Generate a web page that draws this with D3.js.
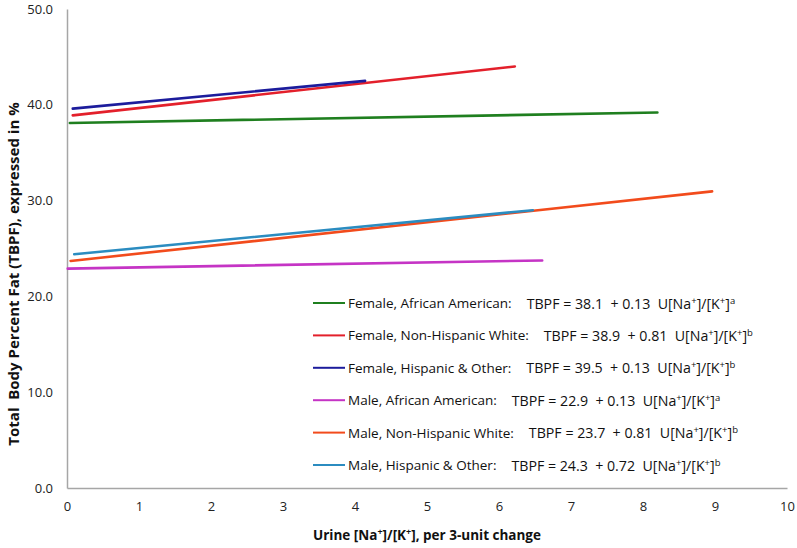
<!DOCTYPE html>
<html>
<head>
<meta charset="utf-8">
<script src="https://cdn.jsdelivr.net/npm/d3@7"></script>
<style>
  html, body { margin: 0; padding: 0; background: #fff; }
  svg { display: block; }
  text { font-family: "Open Sans", "Noto Sans", sans-serif; }
  .eq { white-space: pre; }
</style>
</head>
<body>
<div id="chart"></div>
<script>
// ---- data ----
const seriesNames = [
  "Female, African American:",
  "Female, Non-Hispanic White:",
  "Female, Hispanic & Other:",
  "Male, African American:",
  "Male, Non-Hispanic White:",
  "Male, Hispanic & Other:"
];
const seriesColors = ["#1f7f1f", "#e3202b", "#1c1c9c", "#c534c5", "#f24b1c", "#2b8cc0"];
const eqIntercepts = ["38.1", "38.9", "39.5", "22.9", "23.7", "24.3"];
const eqSlopes = ["0.13", "0.81", "0.13", "0.13", "0.81", "0.72"];
const eqSup = ["a", "b", "b", "a", "b", "b"];
const xStart = [0.04, 0.08, 0.08, 0.01, 0.05, 0.10];
const xEnd   = [8.20, 6.22, 4.14, 6.60, 8.96, 6.47];
const yStart = [38.1, 38.9, 39.6, 22.9, 23.7, 24.4];
const yEnd   = [39.2, 44.0, 42.5, 23.75, 30.96, 29.0];
const xTicks = [0, 1, 2, 3, 4, 5, 6, 7, 8, 9, 10];
const yTicks = [0, 10, 20, 30, 40, 50];

// ---- layout ----
const W = 797, H = 548;
const margin = { left: 67, top: 9, right: 10, bottom: 60 };
const svg = d3.select("#chart").append("svg").attr("width", W).attr("height", H);

const x = d3.scaleLinear().domain([0, 10]).range([margin.left, W - margin.right]);
const y = d3.scaleLinear().domain([0, 50]).range([H - margin.bottom, margin.top]);

// axes
const xAxis = svg.append("g").attr("transform", `translate(0,${y(0)})`)
  .call(d3.axisBottom(x).tickValues(xTicks).tickFormat(d3.format("d")).tickSize(0).tickPadding(14));
const yAxis = svg.append("g").attr("transform", `translate(${x(0)},0)`)
  .call(d3.axisLeft(y).tickValues(yTicks).tickFormat(d3.format(".1f")).tickSize(0).tickPadding(14));
[xAxis, yAxis].forEach(g => {
  g.select(".domain").attr("stroke", "#a6a6a6").attr("stroke-width", 1.5);
  g.selectAll("text").attr("font-size", 13).attr("fill", "#222")
    .attr("font-family", "'Open Sans', sans-serif");
});

// axis titles
svg.append("text")
  .attr("x", 427).attr("y", 540)
  .attr("text-anchor", "middle").attr("font-size", 13.5).attr("font-weight", "bold").attr("fill", "#111")
  .call(t => {
    t.append("tspan").text("Urine [Na");
    t.append("tspan").text("+").attr("font-size", 9).attr("dy", -5);
    t.append("tspan").text("]/[K").attr("dy", 5);
    t.append("tspan").text("+").attr("font-size", 9).attr("dy", -5);
    t.append("tspan").text("], per 3-unit change").attr("dy", 5);
  });

svg.append("text")
  .attr("class", "eq")
  .attr("transform", `translate(19,274) rotate(-90)`)
  .attr("text-anchor", "middle").attr("font-size", 15).attr("font-weight", "bold").attr("fill", "#111")
  .text("Total  Body Percent Fat (TBPF), expressed in %");

// lines
const line = d3.line().x(d => x(d[0])).y(d => y(d[1]));
seriesNames.forEach((n, i) => {
  svg.append("path")
    .attr("d", line([[xStart[i], yStart[i]], [xEnd[i], yEnd[i]]]))
    .attr("stroke", seriesColors[i]).attr("stroke-width", 2.6).attr("fill", "none")
    .attr("stroke-linecap", "round");
});

// legend
const legY0 = 303, legStep = 32.4;
seriesNames.forEach((n, i) => {
  const ly = legY0 + i * legStep;
  svg.append("line").attr("x1", 313).attr("x2", 345).attr("y1", ly).attr("y2", ly)
    .attr("stroke", seriesColors[i]).attr("stroke-width", 2);
  const lab = svg.append("text").attr("x", 348).attr("y", ly + 5)
    .attr("font-size", 13.5).attr("fill", "#111").text(n);
  const lw = lab.node().getComputedTextLength();
  const eq = svg.append("text").attr("class", "eq").attr("x", 348 + lw + 15).attr("y", ly + 5.5)
    .attr("font-size", 14.2).attr("fill", "#111");
  eq.append("tspan").text(`TBPF = ${eqIntercepts[i]}  + ${eqSlopes[i]}  U[Na`);
  eq.append("tspan").text("+").attr("font-size", 9.5).attr("dy", -5);
  eq.append("tspan").text("]/[K").attr("dy", 5);
  eq.append("tspan").text("+").attr("font-size", 9.5).attr("dy", -5);
  eq.append("tspan").text("]").attr("dy", 5);
  eq.append("tspan").text(eqSup[i]).attr("font-size", 9.5).attr("dy", -5);
});
</script>
</body>
</html>
